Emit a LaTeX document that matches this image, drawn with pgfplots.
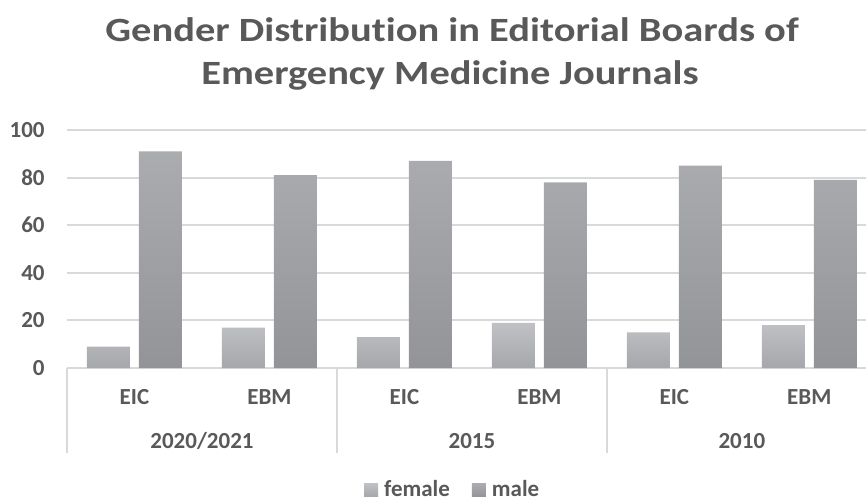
\documentclass[border=0pt]{standalone}
\usepackage{fontspec}
\setmainfont{Carlito}[Ligatures=NoCommon]
\usepackage{pgfplots}
\pgfplotsset{compat=1.18}
\definecolor{txt}{HTML}{595959}
\definecolor{gridc}{HTML}{D9D9D9}
\definecolor{ftop}{RGB}{192,193,197}
\definecolor{fbot}{RGB}{166,167,171}
\definecolor{mtop}{RGB}{171,172,176}
\definecolor{mbot}{RGB}{147,148,152}
\begin{document}
\begin{tikzpicture}
\path[use as bounding box] (-33.5pt,-66pt) rectangle (399.5pt,184pt);
\begin{axis}[
  at={(0,0)}, anchor=south west,
  scale only axis, width=399.5pt, height=119pt,
  xmin=-0.5, xmax=5.42, ymin=0, ymax=100,
  ybar=4.5pt, bar width=21.5pt,
  axis x line*=bottom, axis y line*=left,
  x axis line style={gridc, line width=1pt, -},
  y axis line style={draw=none},
  ymajorgrids, grid style={gridc, line width=1pt},
  ytick={0,20,...,100}, major tick length=0pt,
  xtick={0,...,5}, xticklabels={EIC,EBM,EIC,EBM,EIC,EBM},
  tick label style={font=\bfseries\fontsize{11.5}{13}\selectfont, text=txt},
  /pgf/number format/assume math mode=true,
  yticklabel style={inner sep=0pt, anchor=east, xshift=-11pt},
  xticklabel style={inner sep=0pt, anchor=center, yshift=-14.5pt},
  clip=false,
  legend columns=2,
  legend style={draw=none, at={(0.484,-0.513)}, anchor=center,
    font=\bfseries\fontsize{11.5}{13}\selectfont, text=txt,
    /tikz/every odd column/.append style={column sep=1pt},
    /tikz/every even column/.append style={column sep=9pt}},
  legend image code/.code={\path[#1, draw=none] (0pt,-3.3pt) rectangle (7pt,3.2pt);},
]
\addplot[draw=none, top color=ftop, bottom color=fbot] coordinates {(0,9) (1,17) (2,13) (3,19) (4,15) (5,18)};
\addplot[draw=none, top color=mtop, bottom color=mbot] coordinates {(0,91) (1,81) (2,87) (3,78) (4,85) (5,79)};
\legend{female, male}
\draw[gridc, line width=1pt] (axis cs:-0.5,0) -- ([yshift=-42.5pt]axis cs:-0.5,0);
\draw[gridc, line width=1pt] (axis cs:1.5,0) -- ([yshift=-42.5pt]axis cs:1.5,0);
\draw[gridc, line width=1pt] (axis cs:3.5,0) -- ([yshift=-42.5pt]axis cs:3.5,0);
\node[font=\bfseries\fontsize{11.5}{13}\selectfont, text=txt] at (axis cs:0.5,0) [yshift=-36.5pt] {2020/2021};
\node[font=\bfseries\fontsize{11.5}{13}\selectfont, text=txt] at (axis cs:2.5,0) [yshift=-36.5pt] {2015};
\node[font=\bfseries\fontsize{11.5}{13}\selectfont, text=txt] at (axis cs:4.5,0) [yshift=-36.5pt] {2010};
\end{axis}
\node[font=\bfseries\fontsize{17}{22.5}\selectfont, text=txt] at (192.5pt,169pt) {\scalebox{1.19}[1]{Gender Distribution in Editorial Boards of}};
\node[font=\bfseries\fontsize{17}{22.5}\selectfont, text=txt] at (191.5pt,146.5pt) {\scalebox{1.19}[1]{Emergency Medicine Journals}};
\end{tikzpicture}
\end{document}
